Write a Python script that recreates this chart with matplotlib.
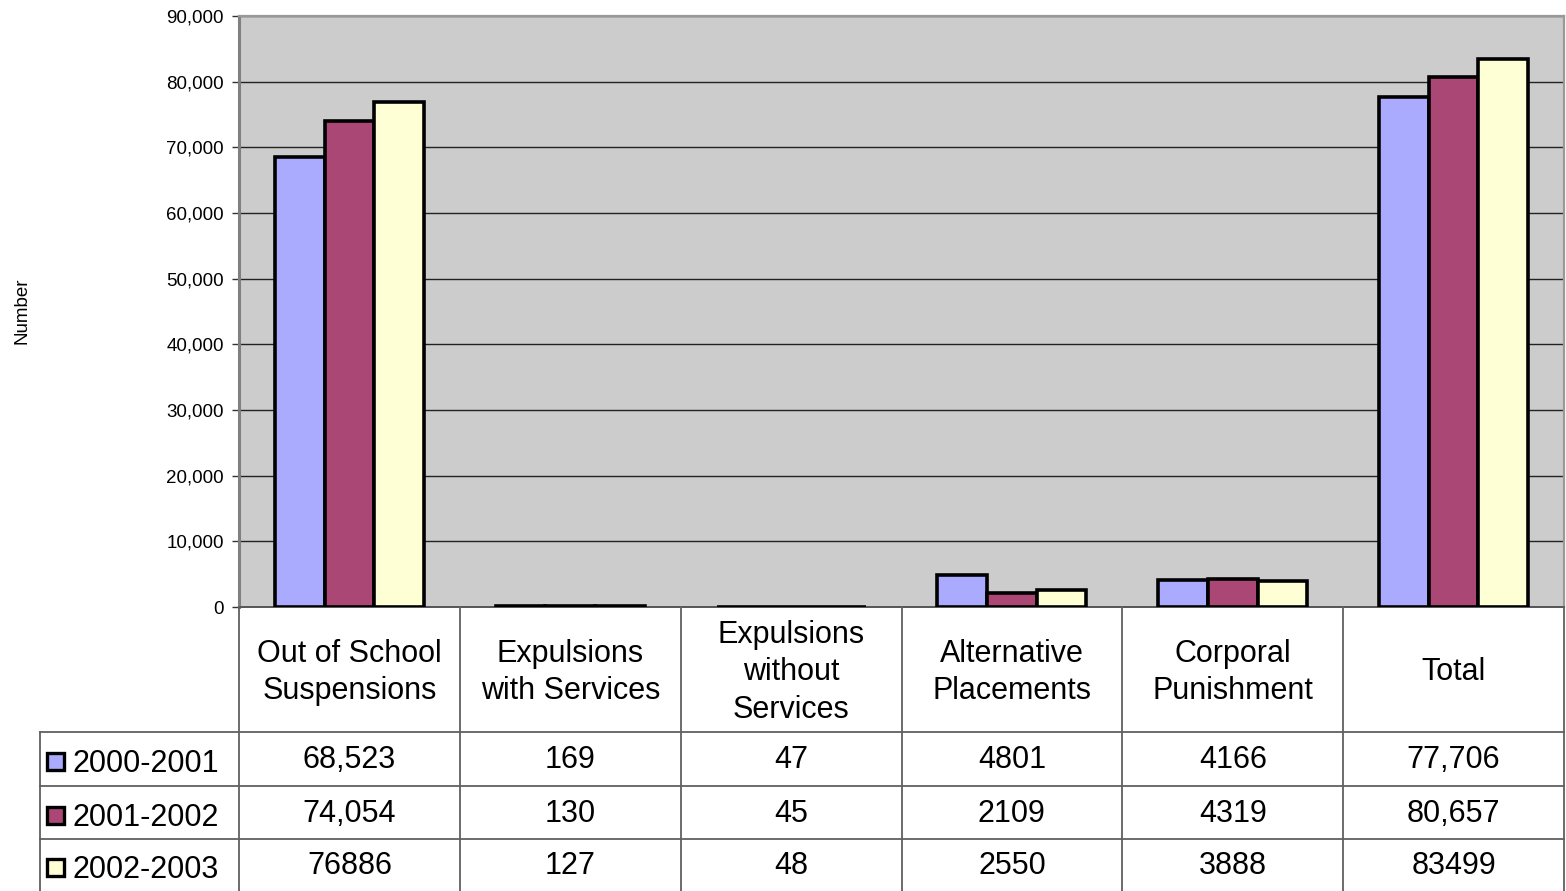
import numpy as np
import matplotlib.pyplot as plt
from matplotlib.patches import Rectangle
from matplotlib.ticker import FuncFormatter, MultipleLocator

plt.rcParams['font.family'] = ['Liberation Sans', 'DejaVu Sans']

categories = ["Out of School\nSuspensions", "Expulsions\nwith Services",
              "Expulsions\nwithout\nServices", "Alternative\nPlacements",
              "Corporal\nPunishment", "Total"]
years = ["2000-2001", "2001-2002", "2002-2003"]
vals_2000 = [68523, 169, 47, 4801, 4166, 77706]
vals_2001 = [74054, 130, 45, 2109, 4319, 80657]
vals_2002 = [76886, 127, 48, 2550, 3888, 83499]
# table text as printed in the source (its formatting is not consistent)
labels_2000 = ["68,523", "169", "47", "4801", "4166", "77,706"]
labels_2001 = ["74,054", "130", "45", "2109", "4319", "80,657"]
labels_2002 = ["76886", "127", "48", "2550", "3888", "83499"]
colors = ["#AAAAFF", "#AA4775", "#FFFFD5"]

series = [vals_2000, vals_2001, vals_2002]
table_rows = [labels_2000, labels_2001, labels_2002]

W, H = 1566, 891
fig = plt.figure(figsize=(W / 100, H / 100), dpi=100)

# plot area in pixels: x 239..1564, y 16..607
left, right, top, bottom = 239, 1564, 16, 607
ax = fig.add_axes([left / W, (H - bottom) / H, (right - left) / W, (bottom - top) / H])
ax.set_facecolor("#CCCCCC")

x = np.arange(len(categories))
bw = 0.225
for i, vals in enumerate(series):
    ax.bar(x + (i - 1) * bw, vals, width=bw, color=colors[i],
           edgecolor="black", linewidth=2.6, zorder=3)

ax.set_xlim(-0.5, len(categories) - 0.5)
ax.set_ylim(0, 90000)
ax.yaxis.set_major_locator(MultipleLocator(10000))
ax.yaxis.set_major_formatter(FuncFormatter(lambda v, p: f"{int(v):,}"))
ax.set_xticks([])
ax.yaxis.grid(True, color="#222222", linewidth=1.0)
ax.set_axisbelow(True)
ax.tick_params(axis="y", direction="out", length=5, width=1, color="#333333",
               labelsize=13.5, pad=6)
ax.spines["left"].set_color("#808080")
ax.spines["left"].set_linewidth(2.2)
ax.spines["top"].set_color("#999999")
ax.spines["top"].set_linewidth(1.6)
ax.spines["right"].set_color("#999999")
ax.spines["right"].set_linewidth(1.6)
ax.spines["bottom"].set_color("#555555")
ax.spines["bottom"].set_linewidth(1.4)

fig.text(22 / W, 1 - 311 / H, "Number", rotation=90, ha="center", va="center",
         fontsize=13.5)

# data table under the plot, drawn in pixel coordinates
tax = fig.add_axes([0, 0, 1, (H - bottom) / H])
tax.set_xlim(0, W)
tax.set_ylim(H, bottom)
tax.axis("off")

n = len(categories)
col_w = (right - left) / n
edges = [left + k * col_w for k in range(n + 1)]
row_edges = [607, 732, 786, 839, 893]
leg_left = 40
line_kw = dict(color="#606060", linewidth=1.3, clip_on=False)

for e in edges:
    tax.plot([e, e], [row_edges[0], row_edges[-1]], **line_kw)
tax.plot([leg_left, leg_left], [row_edges[1], row_edges[-1]], **line_kw)
for r in row_edges[1:-1]:
    tax.plot([leg_left, right], [r, r], **line_kw)

fs = 22
hdr_y = (row_edges[0] + row_edges[1]) / 2 + 3
for k, cat in enumerate(categories):
    cx = (edges[k] + edges[k + 1]) / 2
    tax.text(cx, hdr_y, cat, ha="center", va="center", multialignment="center",
             fontsize=fs, linespacing=1.33)

for r, (labels, yr) in enumerate(zip(table_rows, years)):
    cy = (row_edges[r + 1] + row_edges[r + 2]) / 2
    if r == 2:
        cy = row_edges[3] + 26
    for k, lab in enumerate(labels):
        cx = (edges[k] + edges[k + 1]) / 2
        tax.text(cx, cy + 1, lab, ha="center", va="center", fontsize=fs)
    tax.add_patch(Rectangle((47, cy - 6), 17, 17, facecolor=colors[r],
                            edgecolor="black", linewidth=2.4))
    tax.text(72, cy + 5, yr, ha="left", va="center", fontsize=fs)

fig.savefig("out.png", dpi=100)
